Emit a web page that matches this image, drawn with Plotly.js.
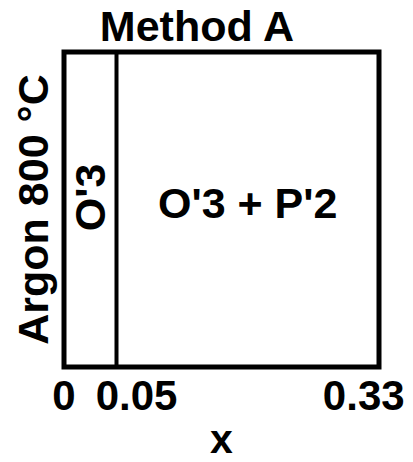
<!DOCTYPE html>
<html>
<head>
<meta charset="utf-8">
<script src="https://cdn.plot.ly/plotly-3.0.1.min.js"></script>
<style>html,body{margin:0;padding:0;background:#fff;}#chart{width:413px;height:462px;}</style>
</head>
<body>
<div id="chart"></div>
<script>
// Data
const xRange = [0, 0.33];
const phaseBoundary = [0.055];
const regionLabels = ["O'3", "O'3 + P'2"];
const tickText = ["0", "0.05", "0.33"];
const tickPos = [0, 0.076, 0.314];
const chartTitle = "Method A";
const xTitle = "x";
const yTitle = "Argon 800 °C";

const FONT = "Liberation Sans, Arial, sans-serif";
const b = phaseBoundary[0];

const data = [{
  x: xRange, y: [0, 1], mode: 'markers', marker: {opacity: 0}, hoverinfo: 'skip', showlegend: false
}];

const layout = {
  width: 413, height: 462,
  margin: {l: 64, r: 34, t: 52, b: 95},
  paper_bgcolor: '#fff', plot_bgcolor: '#fff',
  showlegend: false,
  title: {text: chartTitle, font: {family: FONT, size: 43, color: '#000', weight: 'bold'},
          x: 197/413, xref: 'container', xanchor: 'center', y: 1 - 26/462, yref: 'container', yanchor: 'middle'},
  xaxis: {range: xRange, showgrid: false, zeroline: false, showline: false, ticks: '',
          tickmode: 'array', tickvals: tickPos, ticktext: tickText,
          tickfont: {family: FONT, size: 42, color: '#000', weight: 'bold'},
          title: {text: xTitle, font: {family: FONT, size: 41, color: '#000', weight: 'bold'}, standoff: 9},
          fixedrange: true},
  yaxis: {range: [0, 1], showgrid: false, zeroline: false, showline: false, ticks: '', showticklabels: false,
          title: {text: yTitle, font: {family: FONT, size: 43, color: '#000', weight: 'bold'}, standoff: 0},
          fixedrange: true},
  shapes: [
    {type: 'rect', xref: 'paper', yref: 'paper', x0: 0, x1: 1, y0: 0, y1: 1, line: {color: '#000', width: 5}},
    {type: 'line', xref: 'x', yref: 'paper', x0: b, x1: b, y0: 0, y1: 1, line: {color: '#000', width: 4}}
  ],
  annotations: [
    {text: regionLabels[0], x: b / 2, y: 0.54, xref: 'x', yref: 'y', showarrow: false, textangle: -90,
     font: {family: FONT, size: 43, color: '#000', weight: 'bold'}},
    {text: regionLabels[1], x: (b + xRange[1]) / 2, y: 0.52, xref: 'x', yref: 'y', showarrow: false,
     font: {family: FONT, size: 43, color: '#000', weight: 'bold'}}
  ]
};

Plotly.newPlot('chart', data, layout, {displayModeBar: false, staticPlot: true});
</script>
</body>
</html>
